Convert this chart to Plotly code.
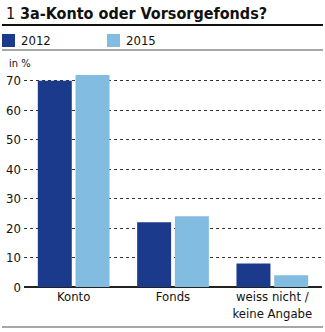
import plotly.graph_objects as go

categories = ["Konto", "Fonds", "weiss nicht /<br>keine Angabe"]
years = ["2012", "2015"]
values_2012 = [70, 22, 8]
values_2015 = [72, 24, 4]
colors = ["#1c3a8c", "#82bce0"]
title_num = "1"
title_text = "3a-Konto oder Vorsorgefonds?"
unit_label = "in %"
y_ticks = [0, 10, 20, 30, 40, 50, 60, 70]

FONT = "'DejaVu Sans Condensed', 'Liberation Sans', sans-serif"
W, H = 325, 332
L, R, T, B = 24, 3, 72, 45

fig = go.Figure()
for name, vals, col in zip(years, [values_2012, values_2015], colors):
    fig.add_trace(go.Bar(x=categories, y=vals, name=name, marker_color=col,
                         marker_line_width=0, showlegend=False))

def px_x(p):
    return (p - L) / (W - L - R)

def px_y(p):
    return 1 - (p - T) / (H - T - B)

shapes = [
    dict(type="line", xref="paper", yref="paper", x0=px_x(2), x1=px_x(323),
         y0=px_y(25), y1=px_y(25), line=dict(color="#111111", width=2)),
    dict(type="line", xref="paper", yref="paper", x0=px_x(2), x1=px_x(323),
         y0=px_y(50), y1=px_y(50), line=dict(color="#8a8a8a", width=1.5)),
    dict(type="line", xref="paper", yref="paper", x0=px_x(2), x1=px_x(323),
         y0=px_y(327), y1=px_y(327), line=dict(color="#8a8a8a", width=1.5)),
]
annotations = [
    dict(text=title_num, xref="paper", yref="paper", x=px_x(4), y=px_y(13),
         xanchor="left", yanchor="middle", showarrow=False,
         font=dict(family=FONT, size=16, color="#111111")),
    dict(text="<b>" + title_text + "</b>", xref="paper", yref="paper", x=px_x(18), y=px_y(13),
         xanchor="left", yanchor="middle", showarrow=False,
         font=dict(family=FONT, size=16, color="#111111")),
    dict(text=unit_label, xref="paper", yref="paper", x=px_x(7), y=px_y(63),
         xanchor="left", yanchor="middle", showarrow=False,
         font=dict(family=FONT, size=11, color="#111111")),
]
leg_x = [2, 107]
for i, (name, col) in enumerate(zip(years, colors)):
    shapes.append(dict(type="rect", xref="paper", yref="paper",
                       x0=px_x(leg_x[i]), x1=px_x(leg_x[i] + 13),
                       y0=px_y(34), y1=px_y(47), fillcolor=col, line_width=0))
    annotations.append(dict(text=name, xref="paper", yref="paper",
                            x=px_x(leg_x[i] + 17), y=px_y(40.5),
                            xanchor="left", yanchor="middle", showarrow=False,
                            font=dict(family=FONT, size=13, color="#111111")))

fig.update_layout(
    width=W, height=H,
    margin=dict(l=L, r=R, t=T, b=B),
    paper_bgcolor="white", plot_bgcolor="white",
    barmode="group", bargap=0.24, bargroupgap=0.1,
    font=dict(family=FONT, size=13, color="#111111"),
    shapes=shapes, annotations=annotations,
    xaxis=dict(showgrid=False, showline=False, ticks="", tickfont=dict(size=13),
               fixedrange=True),
    yaxis=dict(range=[0, 73], tickvals=y_ticks, showgrid=True, gridcolor="#333333",
               griddash="dot", gridwidth=1, zeroline=True, zerolinecolor="#222222",
               zerolinewidth=1.5, showline=False, ticks="", tickfont=dict(size=13),
               ticklabelstandoff=2),
)

fig.write_html("out.html")
